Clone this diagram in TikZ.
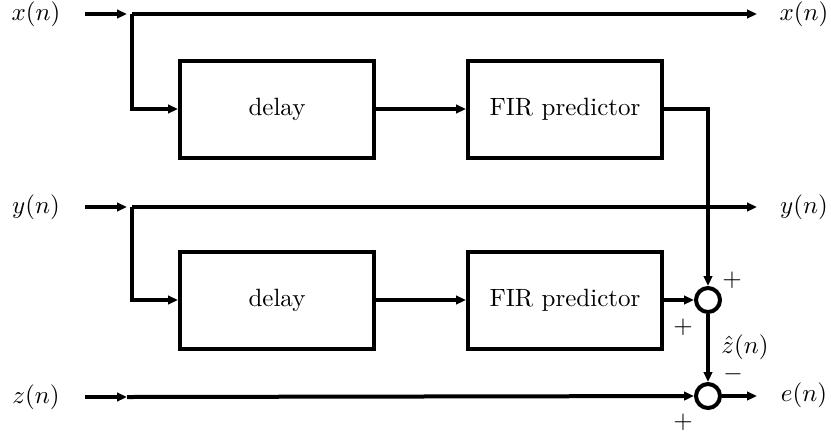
\documentclass[tikz,border=0pt]{standalone}
\usetikzlibrary{arrows.meta}
\begin{document}
\begin{tikzpicture}[x=0.4pt,y=-0.4pt,line width=1.6pt,
>={Triangle[length=4pt,width=3.4pt]},
blk/.style={draw,minimum width=77.6pt,minimum height=38.8pt,inner sep=0pt},
sum/.style={draw,circle,minimum size=9.6pt,inner sep=0pt},
sgn/.style={inner sep=0pt}]
\useasboundingbox (0,0) rectangle (831,434);
% signals in and out
\node (xl) at (36,14) {$x(n)$};
\node (yl) at (36,207) {$y(n)$};
\node (zl) at (36,397) {$z(n)$};
\node (xr) at (804,14) {$x(n)$};
\node (yr) at (804,207) {$y(n)$};
\node (er) at (804,395) {$e(n)$};
\coordinate (xa) at (85,14);
\coordinate (xs) at (132,14);
\coordinate (xb) at (757,14);
\coordinate (ya) at (85,207);
\coordinate (ys) at (132,207);
\coordinate (yb) at (757,207);
\coordinate (za) at (85,397);
\coordinate (zm) at (127,397);
\coordinate (eb) at (757,396);
% blocks
\node[blk] (del1) at (277,109) {delay};
\node[blk] (fir1) at (565,109) {FIR predictor};
\node[blk] (del2) at (277,300) {delay};
\node[blk] (fir2) at (565,300) {FIR predictor};
\node[sum] (s1) at (708,300) {};
\node[sum] (s2) at (708,396) {};
% connections
\draw[->,shorten >=2pt] (xa) -- (xs);
\draw[->] (xs) -- (xb);
\draw[->] (xs) |- (del1.west);
\draw[->] (del1) -- (fir1);
\draw[->] (fir1.east) -| (s1.north);
\draw[->,shorten >=2pt] (ya) -- (ys);
\draw[->] (ys) -- (yb);
\draw[->] (ys) |- (del2.west);
\draw[->] (del2) -- (fir2);
\draw[->] (fir2) -- (s1);
\draw[->] (s1) -- (s2);
\draw[->] (za) -- (zm);
\draw[->] (zm) -- (s2);
\draw[->] (s2) -- (eb);
% signs
\node[sgn] (p1) at (732,280) {$+$};
\node[sgn] (p2) at (683,327) {$+$};
\node[sgn] (zh) at (745,347) {$\hat z(n)$};
\node[sgn] (m1) at (733,374) {$-$};
\node[sgn] (p3) at (683,422) {$+$};
\end{tikzpicture}
\end{document}
